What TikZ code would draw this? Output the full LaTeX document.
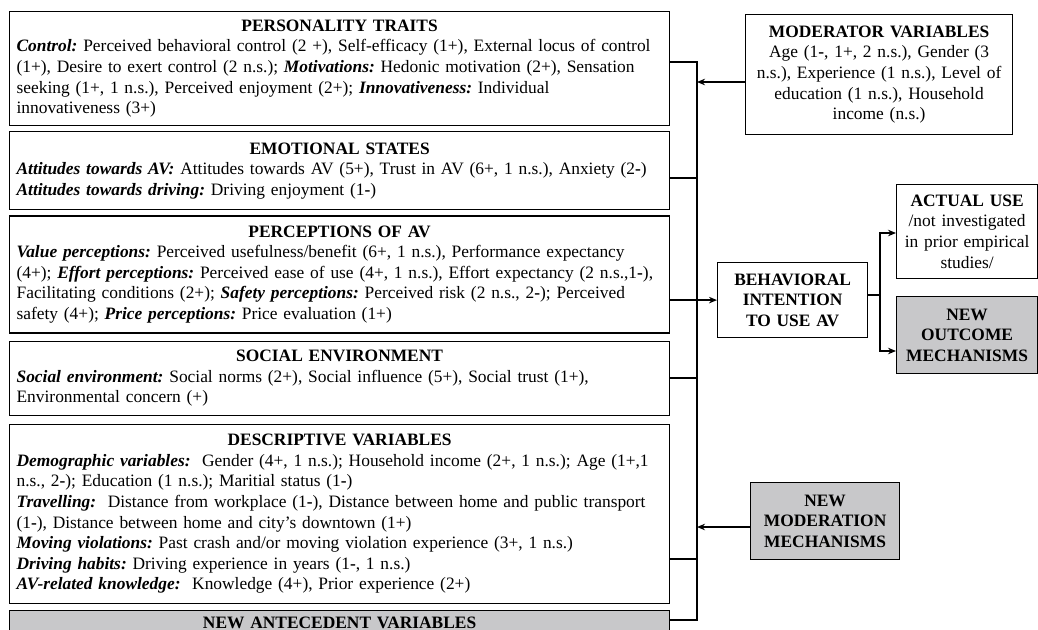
\documentclass[tikz,border=0pt]{standalone}
\usepackage{fontspec}
\setmainfont{Liberation Serif}
\usetikzlibrary{positioning,arrows.meta}
\definecolor{newgray}{RGB}{200,200,202}
\setlength{\parindent}{0pt}
\frenchspacing
\newcommand{\cat}[1]{\textbf{\textit{#1}}}
\newcommand{\bmin}{\textbf{-}}

\begin{document}
\begin{tikzpicture}[x=1pt,y=1pt,>={Stealth[length=8pt,width=6.5pt]},font=\fontsize{17.4}{20.6}\selectfont,
    var node/.style={draw,line width=1.2pt,rectangle,text width=646pt,inner xsep=7pt,inner ysep=0pt,align=left,anchor=north west},
    side node/.style={draw,line width=1.2pt,rectangle,inner xsep=5pt,inner ysep=0pt,align=center,anchor=north west},
    new node/.style={fill=newgray,font=\fontsize{17.4}{20.6}\selectfont\bfseries},
    bus/.style={line width=2.4pt}]
            \useasboundingbox (0,0) rectangle (1038,-629);
            \clip (0,0) rectangle (1038,-629);

            % left column
            \node[var node, minimum height=114pt] (pers) at (9,-11) {{\centering\textbf{PERSONALITY TRAITS}\par}
                \cat{Control:} Perceived behavioral control (2 +), Self-efficacy (1+), External locus of control\\
                (1+), Desire to exert control (2 n.s.); \cat{Motivations:} Hedonic motivation (2+), Sensation\\
                seeking (1+, 1 n.s.), Perceived enjoyment (2+); \cat{Innovativeness:} Individual\\
                innovativeness (3+)};
            \node[var node, minimum height=78pt, below=5pt of pers] (emo) {{\centering\textbf{EMOTIONAL STATES}\par}
                \cat{Attitudes towards AV:} Attitudes towards AV (5+), Trust in AV (6+, 1 n.s.), Anxiety (2\bmin)\\
                \cat{Attitudes towards driving:} Driving enjoyment (1\bmin)};
            \node[var node, minimum height=117pt, below=5pt of emo] (perc) {{\centering\textbf{PERCEPTIONS OF AV}\par}
                \cat{Value perceptions:} Perceived usefulness/benefit (6+, 1 n.s.), Performance expectancy\\
                (4+); \cat{Effort perceptions:} Perceived ease of use (4+, 1 n.s.), Effort expectancy (2 n.s.,1\bmin),\\
                Facilitating conditions (2+); \cat{Safety perceptions:} Perceived risk (2 n.s., 2\bmin); Perceived\\
                safety (4+); \cat{Price perceptions:} Price evaluation (1+)};
            \node[var node, minimum height=74pt, below=7pt of perc] (soc) {{\centering\textbf{SOCIAL ENVIRONMENT}\par}
                \cat{Social environment:} Social norms (2+), Social influence (5+), Social trust (1+),\\
                Environmental concern (+)};
            \node[var node, minimum height=179pt, below=8pt of soc] (desc) {{\centering\textbf{DESCRIPTIVE VARIABLES}\par}
                \cat{Demographic variables:}\ \ Gender (4+, 1 n.s.); Household income (2+, 1 n.s.); Age (1+,1\\
                n.s., 2\bmin); Education (1 n.s.); Maritial status (1\bmin)\\
                \cat{Travelling:}\ \ Distance from workplace (1\bmin), Distance between home and public transport\\
                (1\bmin), Distance between home and city’s downtown (1+)\\
                \cat{Moving violations:} Past crash and/or moving violation experience (3+, 1 n.s.)\\
                \cat{Driving habits:} Driving experience in years (1\bmin, 1 n.s.)\\
                \cat{AV-related knowledge:}\ \ Knowledge (4+), Prior experience (2+)};
            \node[var node, new node, minimum height=24pt, below=6pt of desc] (ante) {{\centering NEW ANTECEDENT VARIABLES\par}};

            % right column
            \node[side node, text width=255pt, inner xsep=6pt, minimum height=120pt] (mod) at (745,-14) {\textbf{MODERATOR VARIABLES}\\
                Age (1\bmin, 1+, 2 n.s.), Gender (3\\ n.s.), Experience (1 n.s.), Level of\\ education (1 n.s.), Household\\ income (n.s.)};
            \node[side node, text width=140pt, minimum height=75pt, font=\fontsize{17.4}{20.6}\selectfont\bfseries] (intent) at (717,-262) {BEHAVIORAL\\ INTENTION\\ TO USE AV};
            \node[side node, text width=131pt, minimum height=94pt] (use) at (896,-184) {\textbf{ACTUAL USE}\\ /not investigated\\ in prior empirical\\ studies/};
            \node[side node, new node, text width=131pt, minimum height=77pt, below=17pt of use] (outc) {NEW\\ OUTCOME\\ MECHANISMS};
            \node[side node, new node, text width=139pt, minimum height=77pt] (newmod) at (750,-482) {NEW\\ MODERATION\\ MECHANISMS};

            % connectors
            \coordinate (bt) at (697,-62);
            \coordinate (e1) at (697,-178);
            \coordinate (s1) at (697,-378);
            \coordinate (d1) at (697,-559);
            \coordinate (bb) at (697,-620);
            \coordinate (m1) at (697,-82);
            \coordinate (m2) at (697,-527);
            \coordinate (fk) at (880,-295);
            \coordinate (f1) at (880,-233);
            \coordinate (f2) at (880,-351);

            \draw[bus] (pers.east |- bt) -- (bt) -- (bb) -- (ante.east |- bb);
            \draw[bus] (emo.east |- e1) -- (e1);
            \draw[bus] (soc.east |- s1) -- (s1);
            \draw[bus] (desc.east |- d1) -- (d1);
            \draw[bus,->] (perc.east |- intent.west) -- (intent.west);
            \draw[->,line width=1.4pt] (mod.west |- m1) -- (m1);
            \draw[->,line width=1.4pt] (newmod.west |- m2) -- (m2);
            \draw[bus] (intent.east |- fk) -- (fk);
            \draw[bus,<->] (use.west |- f1) -- (f1) -- (f2) -- (outc.west |- f2);
        \end{tikzpicture}
\end{document}
